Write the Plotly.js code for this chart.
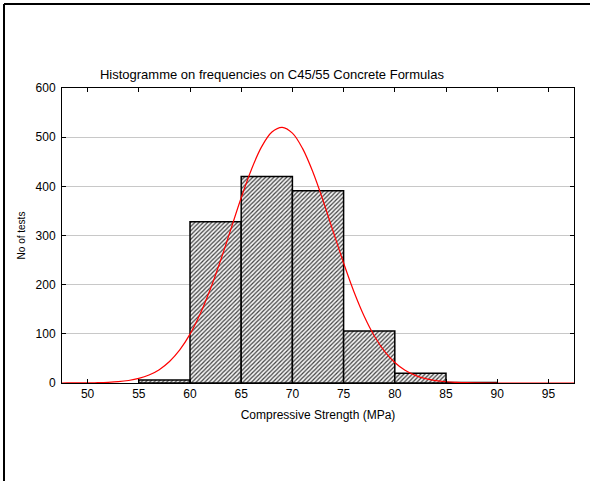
<!DOCTYPE html>
<html>
<head>
<meta charset="utf-8">
<script src="https://cdn.plot.ly/plotly-3.0.1.min.js"></script>
<style>
html,body{margin:0;padding:0;background:#fff;}
#chart{width:595px;height:481px;}
</style>
</head>
<body>
<div id="chart"></div>
<script>
// Histogram bins (centre of each 5 MPa class) and counts
var binCenters = [57.5, 62.5, 67.5, 72.5, 77.5, 82.5, 87.5];
var binCounts  = [6, 328, 420, 391, 106, 20, 1];

// Fitted normal curve
var curveX = [47.5, 48, 50, 51, 52, 53, 54, 55, 56, 57, 58, 59, 60, 61, 62, 63, 64, 65, 66, 67, 68, 69, 70, 71, 72, 73, 74, 75, 76, 77, 78, 79, 80, 81, 82, 83, 84, 85, 86, 87, 88, 90, 97.5];
var curveY = [0.0, 0.1, 0.3, 0.7, 1.4, 2.7, 5.1, 9.3, 16.3, 27.2, 43.7, 67.2, 99.4, 140.9, 191.7, 250.2, 313.5, 376.7, 434.4, 480.7, 510.4, 520, 508.3, 476.7, 429.1, 370.6, 307.0, 244.1, 186.2, 136.3, 95.7, 64.5, 41.7, 25.9, 15.4, 8.8, 4.8, 2.5, 1.3, 0.6, 0.3, 0.05, 0.0];

var xTicks = [50, 55, 60, 65, 70, 75, 80, 85, 90, 95];
var yTicks = [0, 100, 200, 300, 400, 500, 600];

var font = 'Liberation Sans, Arial, sans-serif';

var traces = [
  {
    type: 'bar',
    x: binCenters,
    y: binCounts,
    width: 5,
    marker: {
      color: '#ffffff',
      line: {color: '#000000', width: 1.5},
      pattern: {shape: '/', fgcolor: '#404040', bgcolor: '#f4f4f4', size: 3, solidity: 0.4}
    },
    showlegend: false,
    hoverinfo: 'x+y'
  },
  {
    type: 'scatter',
    mode: 'lines',
    x: curveX,
    y: curveY,
    line: {color: '#ff0000', width: 1.2, shape: 'spline', smoothing: 1},
    showlegend: false
  }
];

var layout = {
  width: 595,
  height: 481,
  margin: {l: 62, r: 21, t: 88, b: 98},
  paper_bgcolor: '#ffffff',
  plot_bgcolor: '#ffffff',
  font: {family: font, size: 12, color: '#000'},
  bargap: 0,
  title: {
    text: 'Histogramme on frequencies on C45/55 Concrete Formulas',
    font: {family: font, size: 13, color: '#000'},
    xref: 'paper', x: 0.41, xanchor: 'center',
    yref: 'container', y: 1 - 74/481, yanchor: 'middle'
  },
  xaxis: {
    range: [47.5, 97.5],
    tickvals: xTicks,
    ticktext: xTicks.map(String),
    ticks: 'inside', ticklen: 4, tickcolor: '#000',
    showline: true, linecolor: '#000', linewidth: 1, mirror: 'ticks',
    showgrid: false, zeroline: false,
    tickfont: {family: font, size: 12, color: '#000'},
    title: {text: 'Compressive Strength (MPa)', font: {family: font, size: 12, color: '#000'}, standoff: 10}
  },
  yaxis: {
    range: [0, 600],
    tickvals: yTicks,
    ticktext: yTicks.map(String),
    ticks: 'inside', ticklen: 4, tickcolor: '#000',
    ticklabelstandoff: 3,
    showline: true, linecolor: '#000', linewidth: 1, mirror: 'ticks',
    showgrid: true, gridcolor: '#c8c8c8', gridwidth: 1, zeroline: false,
    tickfont: {family: font, size: 12, color: '#000'},
    title: {text: 'No of tests', font: {family: font, size: 10, color: '#000'}, standoff: 8}
  },
  shapes: [
    {type: 'line', xref: 'paper', yref: 'paper', x0: (4-62)/512, x1: (4-62)/512, y0: 1 + 84/295, y1: -98/295, line: {color: '#000', width: 2}},
    {type: 'line', xref: 'paper', yref: 'paper', x0: (4-62)/512, x1: (590-62)/512, y0: 1 + 84/295, y1: 1 + 84/295, line: {color: '#000', width: 2}}
  ]
};

Plotly.newPlot('chart', traces, layout, {displayModeBar: false, staticPlot: true});
</script>
</body>
</html>
